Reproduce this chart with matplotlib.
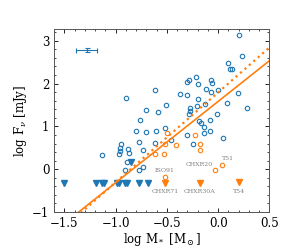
import numpy as np
import matplotlib
matplotlib.use('Agg')
import matplotlib.pyplot as plt
from matplotlib.ticker import MultipleLocator

plt.rcParams['font.family'] = ['DejaVu Serif']
plt.rcParams['mathtext.fontset'] = 'dejavuserif'

# detections (blue open circles)
det_x = [-1.136, -0.901, -0.969, -0.96, -0.95, -0.955, -0.878, -0.868, -0.891, -0.91,
         -0.80, -0.76, -0.77, -0.775, -0.73, -0.73, -0.705, -0.70, -0.615, -0.611,
         -0.615, -0.582, -0.505, -0.515, -0.463, -0.373, -0.305, -0.283, -0.305, -0.279,
         -0.275, -0.283, -0.305, -0.244, -0.215, -0.192, -0.196, -0.209, -0.183, -0.167,
         -0.138, -0.135, -0.125, -0.115, -0.07, -0.06, -0.07, -0.077, -0.08, 0.0,
         -0.012, 0.052, 0.10, 0.12, 0.133, 0.09, 0.207, 0.23, 0.197, 0.284]
det_y = [0.34, 1.66, 0.36, 0.50, 0.60, 0.43, 0.47, 0.37, 0.16, -0.03,
         0.89, 1.16, 0.64, -0.02, 0.44, 0.06, 1.38, 0.87, 1.84, 0.90,
         0.62, 1.33, 1.49, 0.96, 0.68, 1.76, 2.03, 2.09, 1.73, 1.43,
         1.37, 1.30, 0.81, 0.58, 2.16, 2.00, 1.64, 1.47, 1.12, 1.09,
         0.99, 0.85, 1.52, 1.88, 2.08, 2.02, 1.81, 1.15, 0.89, 1.86,
         1.29, 0.74, 2.49, 2.33, 2.35, 1.54, 3.13, 2.64, 1.77, 1.42]

# upper limits (blue filled triangles)
lim_x = [-1.5, -1.193, -1.129, -1.112, -0.983, -0.964, -0.909, -0.886, -0.770, -0.683, -0.854]
lim_y = [-0.33, -0.33, -0.33, -0.33, -0.33, -0.33, -0.33, -0.33, -0.33, -0.33, 0.175]

# orange detections and limits
or_x = [-0.502, -0.521, -0.524, -0.408, -0.618, -0.227, -0.179, -0.179, -0.03, 0.04, -0.515]
or_y = [0.85, 0.59, 0.35, 0.57, 0.35, 0.81, 0.60, 0.45, -0.03, 0.09, -0.19]
or_lim_x = [-0.515, -0.18, 0.20]
or_lim_y = [-0.32, -0.33, -0.31]

# labels
lab_text = ['ISO91', 'CHXR71', 'CHXR20', 'T51', 'CHXR30A', 'T54']
lab_x = [-0.518, -0.515, -0.182, 0.10, -0.18, 0.20]
lab_y = [-0.035, -0.51, 0.10, 0.24, -0.51, -0.51]

# fits: solid and dotted
fit_slope = [1.90, 2.10]
fit_icpt = [1.584, 1.793]

# typical error bar
err_x, err_y = -1.28, 2.79
err_dx, err_dy = 0.103, 0.04

blue = '#1f77b4'
orange = '#ff7f0e'

fig = plt.figure(figsize=(2.99, 2.5), dpi=100)
ax = fig.add_axes([0.181, 0.152, 0.72, 0.731])

ax.plot(det_x, det_y, 'o', mfc='none', mec=blue, ms=3.2, mew=0.8)
ax.plot(lim_x, lim_y, 'v', color=blue, ms=3.8)
ax.plot(or_x, or_y, 'o', mfc='none', mec=orange, ms=3.2, mew=0.8)
ax.plot(or_lim_x, or_lim_y, 'v', color=orange, ms=3.8)

xx = np.linspace(-1.6, 0.5, 100)
ax.plot(xx, fit_icpt[0] + fit_slope[0] * xx, '-', color=orange, lw=1.2)
ax.plot(xx, fit_icpt[1] + fit_slope[1] * xx, ':', color=orange, lw=1.6)

ax.errorbar(err_x, err_y, xerr=err_dx, yerr=err_dy, color=blue, lw=0.8, capsize=1.8, capthick=0.8)

for t, x, y in zip(lab_text, lab_x, lab_y):
    ax.text(x, y, t, fontsize=4.5, color='gray', ha='center', va='center')

ax.set_xlim(-1.6, 0.5)
ax.set_ylim(-1, 3.27)
ax.xaxis.set_major_locator(MultipleLocator(0.5))
ax.xaxis.set_minor_locator(MultipleLocator(0.1))
ax.yaxis.set_major_locator(MultipleLocator(1))
ax.yaxis.set_minor_locator(MultipleLocator(0.2))
ax.tick_params(which='both', direction='in', top=True, right=True, labelsize=8.5)
ax.tick_params(which='major', length=3, width=0.6)
ax.tick_params(which='minor', length=1.5, width=0.5)
for s in ax.spines.values():
    s.set_linewidth(0.7)
    s.set_color('#555555')

ax.set_xlabel(r'log M$_*$ [M$_\odot$]', fontsize=8.5, labelpad=1)
ax.set_ylabel(r'log F$_\nu$ [mJy]', fontsize=8.5, labelpad=2)

fig.savefig('out.png', dpi=100)
